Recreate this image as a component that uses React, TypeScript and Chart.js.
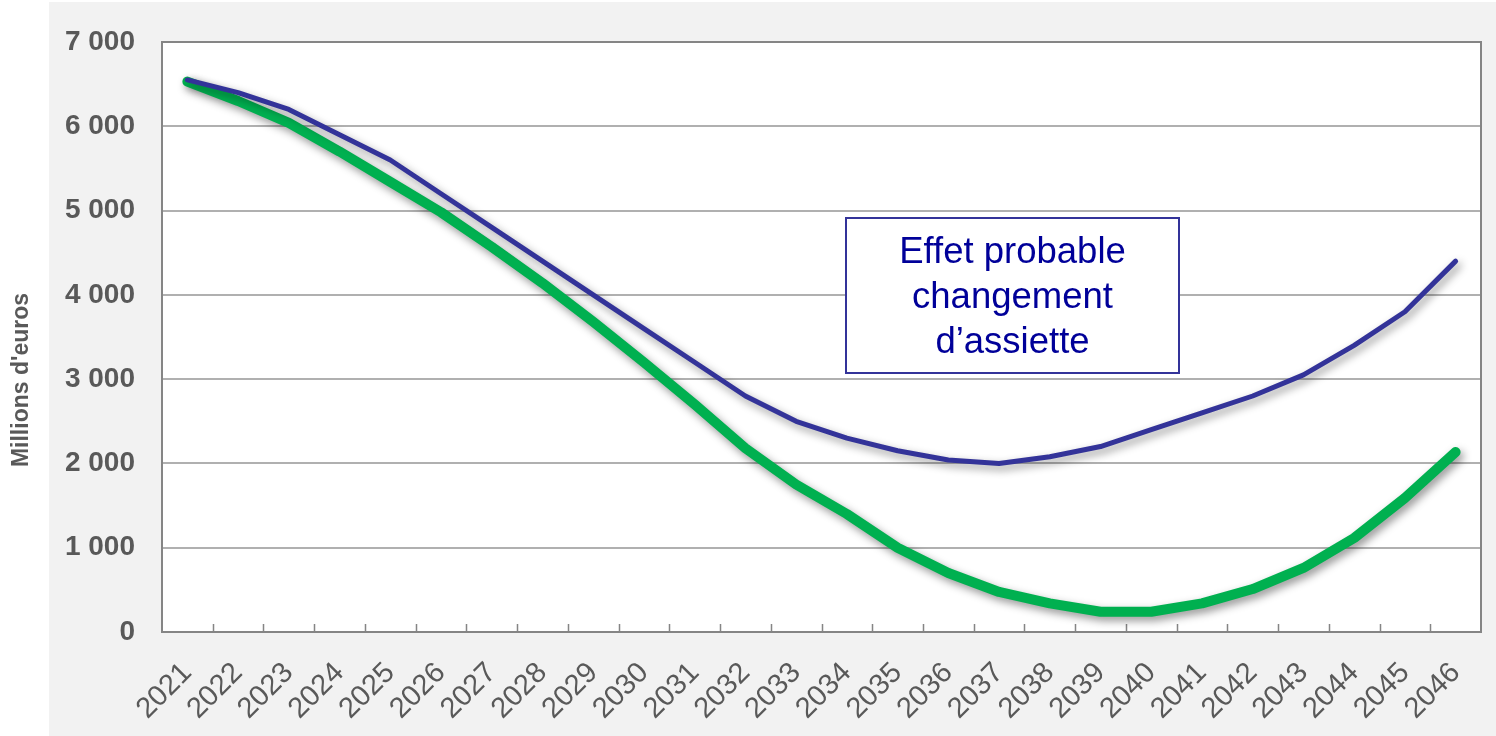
import React, { useEffect, useRef } from 'react';
import { Chart, registerables } from 'chart.js';

Chart.register(...registerables);

const years = [
  '2021', '2022', '2023', '2024', '2025', '2026', '2027', '2028', '2029', '2030',
  '2031', '2032', '2033', '2034', '2035', '2036', '2037', '2038', '2039', '2040',
  '2041', '2042', '2043', '2044', '2045', '2046',
];

const blueSeries = [
  6550, 6400, 6200, 5900, 5600, 5200, 4800, 4400, 4000, 3600,
  3200, 2800, 2500, 2300, 2150, 2040, 2000, 2080, 2200, 2400,
  2600, 2800, 3050, 3400, 3800, 4400,
];

const greenSeries = [
  6530, 6300, 6040, 5700, 5340, 4980, 4570, 4140, 3680, 3200,
  2700, 2180, 1750, 1400, 1000, 700, 475, 340, 240, 240,
  340, 510, 760, 1115, 1590, 2135,
];

const yMin = 0;
const yMax = 7000;
const yStep = 1000;

const yTitle = "Millions d'euros";
const annotationLines = ['Effet probable', 'changement', 'd\u2019assiette'];

const FONT = 'Arial, "Liberation Sans", sans-serif';
const LABEL_COLOR = '#595959';

const formatThousands = (v: number) =>
  String(Math.round(v)).replace(/\B(?=(\d{3})+(?!\d))/g, ' ');

const decorPlugin = {
  id: 'decor',
  beforeDraw(chart: any) {
    const { ctx, chartArea, width, height } = chart;
    ctx.save();
    ctx.fillStyle = '#ffffff';
    ctx.fillRect(0, 0, width, height);
    ctx.fillStyle = '#f2f2f2';
    ctx.fillRect(49, 2, width - 49, height - 2);
    ctx.fillStyle = '#ffffff';
    ctx.fillRect(chartArea.left, chartArea.top, chartArea.right - chartArea.left, chartArea.bottom - chartArea.top);
    ctx.restore();
  },
  beforeDatasetsDraw(chart: any) {
    const { ctx, chartArea } = chart;
    const n = years.length;
    const w = (chartArea.right - chartArea.left) / n;
    ctx.save();
    ctx.strokeStyle = '#858585';
    ctx.lineWidth = 1.5;
    ctx.beginPath();
    for (let i = 1; i < n; i++) {
      const x = Math.round(chartArea.left + i * w) + 0.5;
      ctx.moveTo(x, chartArea.bottom);
      ctx.lineTo(x, chartArea.bottom - 8);
    }
    ctx.stroke();
    ctx.lineWidth = 2;
    ctx.beginPath();
    ctx.moveTo(chartArea.left, chartArea.top);
    ctx.lineTo(chartArea.right, chartArea.top);
    ctx.lineTo(chartArea.right, chartArea.bottom);
    ctx.stroke();
    ctx.restore();
  },
  beforeDatasetDraw(chart: any) {
    const { ctx } = chart;
    ctx.save();
    ctx.shadowColor = 'rgba(0,0,0,0.42)';
    ctx.shadowBlur = 8;
    ctx.shadowOffsetX = 3;
    ctx.shadowOffsetY = 4;
  },
  afterDatasetDraw(chart: any) {
    chart.ctx.restore();
  },
  afterDraw(chart: any) {
    const { ctx } = chart;
    ctx.save();
    const bx = 846, by = 218, bw = 333, bh = 155;
    ctx.fillStyle = '#ffffff';
    ctx.fillRect(bx, by, bw, bh);
    ctx.strokeStyle = '#333399';
    ctx.lineWidth = 2;
    ctx.strokeRect(bx, by, bw, bh);
    ctx.fillStyle = '#000099';
    ctx.font = `36.5px ${FONT}`;
    ctx.textAlign = 'center';
    ctx.textBaseline = 'alphabetic';
    annotationLines.forEach((line, i) => {
      ctx.fillText(line, bx + bw / 2, 263 + i * 45);
    });
    ctx.translate(22, 380);
    ctx.rotate(-Math.PI / 2);
    ctx.fillStyle = LABEL_COLOR;
    ctx.font = `bold 23px ${FONT}`;
    ctx.textAlign = 'center';
    ctx.textBaseline = 'middle';
    ctx.fillText(yTitle, 0, 0);
    ctx.restore();
  },
};

export default function App() {
  const canvasRef = useRef<HTMLCanvasElement | null>(null);

  useEffect(() => {
    if (!canvasRef.current) return;
    const chart = new Chart(canvasRef.current, {
      type: 'line',
      data: {
        labels: years,
        datasets: [
          {
            label: 'Blue',
            data: blueSeries,
            borderColor: '#333399',
            borderWidth: 5,
            pointRadius: 0,
            tension: 0,
            borderCapStyle: 'round',
            borderJoinStyle: 'round',
            fill: false,
          },
          {
            label: 'Green',
            data: greenSeries,
            borderColor: '#00b050',
            borderWidth: 10,
            pointRadius: 0,
            tension: 0,
            borderCapStyle: 'round',
            borderJoinStyle: 'round',
            fill: false,
          },
        ],
      },
      options: {
        animation: false,
        responsive: false,
        devicePixelRatio: 1,
        layout: { padding: { left: 0, top: 42, right: 15, bottom: 0 } },
        plugins: {
          legend: { display: false },
          tooltip: { enabled: false },
          title: { display: false },
        },
        scales: {
          x: {
            type: 'category',
            offset: true,
            grid: { display: false, drawTicks: false },
            border: { display: true, color: '#858585', width: 2 },
            ticks: {
              color: LABEL_COLOR,
              font: { family: FONT, size: 29 },
              minRotation: 45,
              maxRotation: 45,
              autoSkip: false,
              padding: 24,
            },
            afterFit: (s: any) => {
              s.height = 104;
              s.paddingLeft = 0;
              s.paddingRight = 0;
            },
          },
          y: {
            min: yMin,
            max: yMax,
            grid: { color: '#b0b0b0', lineWidth: 2, drawTicks: false },
            border: { display: true, color: '#858585', width: 2 },
            ticks: {
              stepSize: yStep,
              color: LABEL_COLOR,
              font: { family: FONT, size: 28, weight: 'bold' },
              padding: 27,
              callback: (v: any) => formatThousands(Number(v)),
            },
            afterFit: (s: any) => {
              s.width = 162;
              s.paddingTop = 0;
              s.paddingBottom = 0;
            },
          },
        },
      },
      plugins: [decorPlugin],
    } as any);
    return () => chart.destroy();
  }, []);

  return (
    <canvas
      ref={canvasRef}
      width={1496}
      height={736}
      style={{ position: 'absolute', left: 0, top: 0, display: 'block', width: 1496, height: 736 }}
    />
  );
}
